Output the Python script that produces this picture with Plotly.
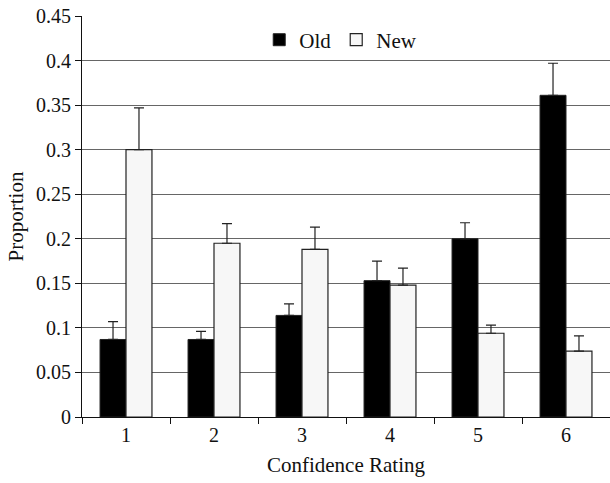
import plotly.graph_objects as go

categories = ["1", "2", "3", "4", "5", "6"]
old_values = [0.087, 0.087, 0.114, 0.153, 0.200, 0.361]
old_err = [0.020, 0.009, 0.013, 0.022, 0.018, 0.036]
new_values = [0.300, 0.195, 0.188, 0.148, 0.094, 0.074]
new_err = [0.047, 0.022, 0.025, 0.019, 0.009, 0.017]
y_ticks = [0, 0.05, 0.1, 0.15, 0.2, 0.25, 0.3, 0.35, 0.4, 0.45]
y_tick_labels = ["0", "0.05", "0.1", "0.15", "0.2", "0.25", "0.3", "0.35", "0.4", "0.45"]

FONT = "Liberation Serif, Times New Roman, serif"

fig = go.Figure()
fig.add_trace(go.Bar(
    name="Old", x=categories, y=old_values,
    marker=dict(color="#000000", line=dict(color="#222222", width=1)),
    error_y=dict(type="data", symmetric=False, array=old_err,
                 arrayminus=[0] * len(old_err), color="#222222",
                 thickness=1.2, width=5),
))
fig.add_trace(go.Bar(
    name="New", x=categories, y=new_values,
    marker=dict(color="#f7f7f7", line=dict(color="#222222", width=1.2)),
    error_y=dict(type="data", symmetric=False, array=new_err,
                 arrayminus=[0] * len(new_err), color="#222222",
                 thickness=1.2, width=5),
))

fig.update_layout(
    width=610, height=483,
    margin=dict(l=82, r=0, t=16, b=66, autoexpand=False),
    paper_bgcolor="white", plot_bgcolor="white",
    barmode="group", bargap=0.41, bargroupgap=0,
    font=dict(family=FONT, size=20, color="#111111"),
    showlegend=True,
    legend=dict(orientation="h", x=0.49, xanchor="center", y=0.94,
                yanchor="middle", font=dict(family=FONT, size=21),
                bgcolor="rgba(0,0,0,0)", itemwidth=30, tracegroupgap=0),
    xaxis=dict(
        type="category", tickson="boundaries", ticks="outside",
        ticklen=6, tickcolor="#111111", showline=True, linecolor="#111111",
        linewidth=1.2, showgrid=False, range=[-0.5, 5.5], automargin=False,
        title=dict(text="Confidence Rating", font=dict(family=FONT, size=21),
                   standoff=12),
        tickfont=dict(family=FONT, size=20),
    ),
    yaxis=dict(
        range=[0, 0.45], tickvals=y_ticks, ticktext=y_tick_labels,
        ticks="outside", ticklen=6, tickcolor="#111111", automargin=False,
        showline=True, linecolor="#111111", linewidth=1.2,
        showgrid=True, gridcolor="#666666", gridwidth=1,
        zeroline=False,
        title=dict(text="Proportion", font=dict(family=FONT, size=21),
                   standoff=6),
        tickfont=dict(family=FONT, size=20),
    ),
)

fig.write_html(
    "out.html",
    config={"displayModeBar": False},
    post_script="document.body.style.margin='0';document.body.style.overflow='hidden';",
)
